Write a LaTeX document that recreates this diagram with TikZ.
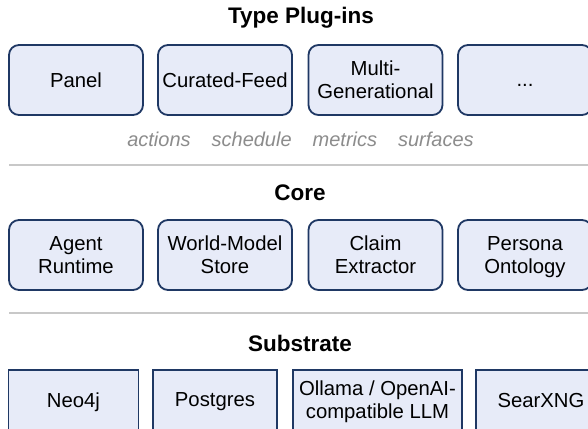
\documentclass[tikz,border=0pt]{standalone}
\usepackage{fontspec}
\setmainfont{Liberation Sans}
\usepackage{xcolor}
\definecolor{boxfill}{HTML}{E7EBF8}
\definecolor{boxline}{HTML}{1F3864}
\definecolor{tagtext}{HTML}{8C8C8C}
\definecolor{rulegray}{HTML}{C8C8C8}
\tikzset{
  layertitle/.style={font=\bfseries\fontsize{22.5}{26}\selectfont, inner sep=0pt},
  plugbox/.style={draw=boxline, fill=boxfill, line width=1.8pt, rounded corners=10pt,
    minimum width=134pt, minimum height=70pt, align=center, inner sep=0pt,
    text depth=0pt, font=\fontsize{20.3}{23}\selectfont},
  basebox/.style={plugbox, rounded corners=0pt, minimum height=60pt},
  tagline/.style={text=tagtext, font=\itshape\fontsize{20}{23}\selectfont, inner sep=0pt},
  sepline/.style={draw=rulegray, line width=1.5pt}
}

\begin{document}
\begin{tikzpicture}[x=1pt,y=1pt,yscale=-1]
    \path[use as bounding box, clip] (0,0) rectangle (588,428);
    \fill[white] (0,0) rectangle (588,428);

    %Type plug-ins layer
    \node[layertitle] (plugtitle) at (301,18) {Type Plug-ins};
    \node[plugbox] (panel) at (76,80) {Panel};
    \node[plugbox] (feed) at (225,80) {Curated-Feed};
    \node[plugbox] (multigen) at (375.5,80) {Multi-\\Generational};
    \node[plugbox] (more) at (525,80) {\vphantom{P}...};
    \node[tagline] (tags) at (300.5,139) {actions\hspace{21pt}schedule\hspace{21pt}metrics\hspace{21pt}surfaces};
    \draw[sepline] (9,165) -- (600,165);

    %Core layer
    \node[layertitle] (coretitle) at (300,193) {Core};
    \node[plugbox] (runtime) at (76,255) {Agent\\Runtime};
    \node[plugbox] (store) at (225,255) {World-Model\\Store};
    \node[plugbox] (extractor) at (375.5,255) {Claim\\Extractor};
    \node[plugbox] (ontology) at (525,255) {Persona\\Ontology};
    \draw[sepline] (9,313) -- (600,313);

    %Substrate layer
    \node[layertitle] (basetitle) at (300,343) {Substrate};
    \node[basebox, minimum width=130pt] (neo) at (73.5,400) {Neo4j};
    \node[basebox, minimum width=124pt] (pg) at (215,400) {Postgres};
    \node[basebox, minimum width=169pt] (llm) at (377.5,400) {Ollama / OpenAI-\\compatible LLM};
    \node[basebox, minimum width=130pt] (searx) at (541,400) {SearXNG};
\end{tikzpicture}
\end{document}
